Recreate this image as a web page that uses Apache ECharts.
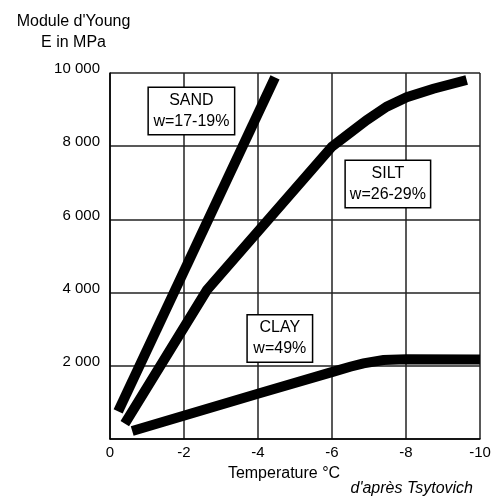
<!DOCTYPE html>
<html>
<head>
<meta charset="utf-8">
<script src="https://cdn.jsdelivr.net/npm/echarts@6/dist/echarts.min.js"></script>
<style>
  html, body { margin: 0; padding: 0; background: #fff; }
  #chart { width: 499px; height: 502px; }
</style>
</head>
<body>
<div id="chart"></div>
<script>
// Temperature (°C) and Young's modulus (MPa)
const sandT = [-0.22, -4.46];
const sandE = [757, 9880];
const siltT = [-0.4, -2.62, -6.0, -6.49, -6.94, -7.48, -8.02, -8.74, -9.64];
const siltE = [420, 4070, 7990, 8370, 8715, 9080, 9340, 9570, 9808];
const clayT = [-0.6, -4.04, -6.04, -6.49, -6.85, -7.39, -8.02, -10];
const clayE = [220, 1248, 1840, 1975, 2068, 2158, 2180, 2170];

const labels = [
  { name: 'SAND', text: 'SAND\nw=17-19%', t: -2.2, e: 8960, w: 75 },
  { name: 'SILT', text: 'SILT\nw=26-29%', t: -7.51, e: 6966, w: 74 },
  { name: 'CLAY', text: 'CLAY\nw=49%', t: -4.59, e: 2746, w: 54 }
];

const xTicks = { min: -10, max: 0, interval: 2 };
const yTicks = { min: 0, max: 10000, interval: 2000 };

const FONT = 'Liberation Sans, Arial, sans-serif';

function zip(a, b) { return a.map((v, i) => [v, b[i]]); }

function lineSeries(name, T, E) {
  const lab = labels.find(l => l.name === name);
  return {
    name: name,
    type: 'line',
    data: zip(T, E),
    showSymbol: false,
    symbol: 'none',
    smooth: false,
    lineStyle: { color: '#000', width: 10, cap: 'butt', join: 'miter' },
    z: 3,
    markPoint: {
      symbol: 'rect',
      symbolSize: 1,
      itemStyle: { color: 'rgba(0,0,0,0)' },
      z: 5,
      data: [{ coord: [lab.t, lab.e] }],
      label: {
        show: true,
        position: 'inside',
        formatter: lab.text,
        fontFamily: FONT,
        fontSize: 16,
        color: '#000',
        lineHeight: 21,
        width: lab.w,
        align: 'center',
        backgroundColor: '#fff',
        borderColor: '#000',
        borderWidth: 1.5,
        padding: [2, 5, 2, 5]
      }
    }
  };
}

const chart = echarts.init(document.getElementById('chart'), null, { renderer: 'canvas' });
chart.setOption({
  animation: false,
  backgroundColor: '#fff',
  grid: { left: 110, right: 19, top: 73, bottom: 63, containLabel: false },
  xAxis: {
    type: 'value',
    inverse: true,
    min: xTicks.min, max: xTicks.max, interval: xTicks.interval,
    name: 'Temperature °C',
    nameLocation: 'middle',
    nameGap: 27,
    nameTextStyle: { fontFamily: FONT, fontSize: 16, color: '#000', padding: [0, 22, 0, 0] },
    axisLine: { show: true, lineStyle: { color: '#000', width: 1.5 } },
    axisTick: { show: false },
    axisLabel: { fontFamily: FONT, fontSize: 15, color: '#000', margin: 6 },
    splitLine: { show: true, lineStyle: { color: '#222', width: 1.5 } }
  },
  yAxis: {
    type: 'value',
    min: yTicks.min, max: yTicks.max, interval: yTicks.interval,
    axisLine: { show: true, lineStyle: { color: '#000', width: 1.5 } },
    axisTick: { show: false },
    axisLabel: {
      fontFamily: FONT, fontSize: 15, color: '#000', margin: 10,
      verticalAlign: 'bottom',
      lineHeight: 8,
      formatter: function (v) {
        if (v === 0) return '';
        return String(v).replace(/\B(?=(\d{3})+(?!\d))/g, ' ');
      }
    },
    splitLine: { show: true, lineStyle: { color: '#222', width: 1.5 } }
  },
  graphic: [
    { type: 'text', x: 73.5, y: 22, style: { text: "Module d'Young", fontFamily: FONT, fontSize: 16, fill: '#000', textAlign: 'center', textVerticalAlign: 'middle' } },
    { type: 'text', x: 73.5, y: 43, style: { text: 'E in MPa', fontFamily: FONT, fontSize: 16, fill: '#000', textAlign: 'center', textVerticalAlign: 'middle' } },
    { type: 'text', x: 473, y: 489, style: { text: "d'après Tsytovich", fontFamily: FONT, fontSize: 16, fontStyle: 'italic', fill: '#000', textAlign: 'right', textVerticalAlign: 'middle' } }
  ],
  series: [
    lineSeries('SAND', sandT, sandE),
    lineSeries('SILT', siltT, siltE),
    lineSeries('CLAY', clayT, clayE)
  ]
});
</script>
</body>
</html>
